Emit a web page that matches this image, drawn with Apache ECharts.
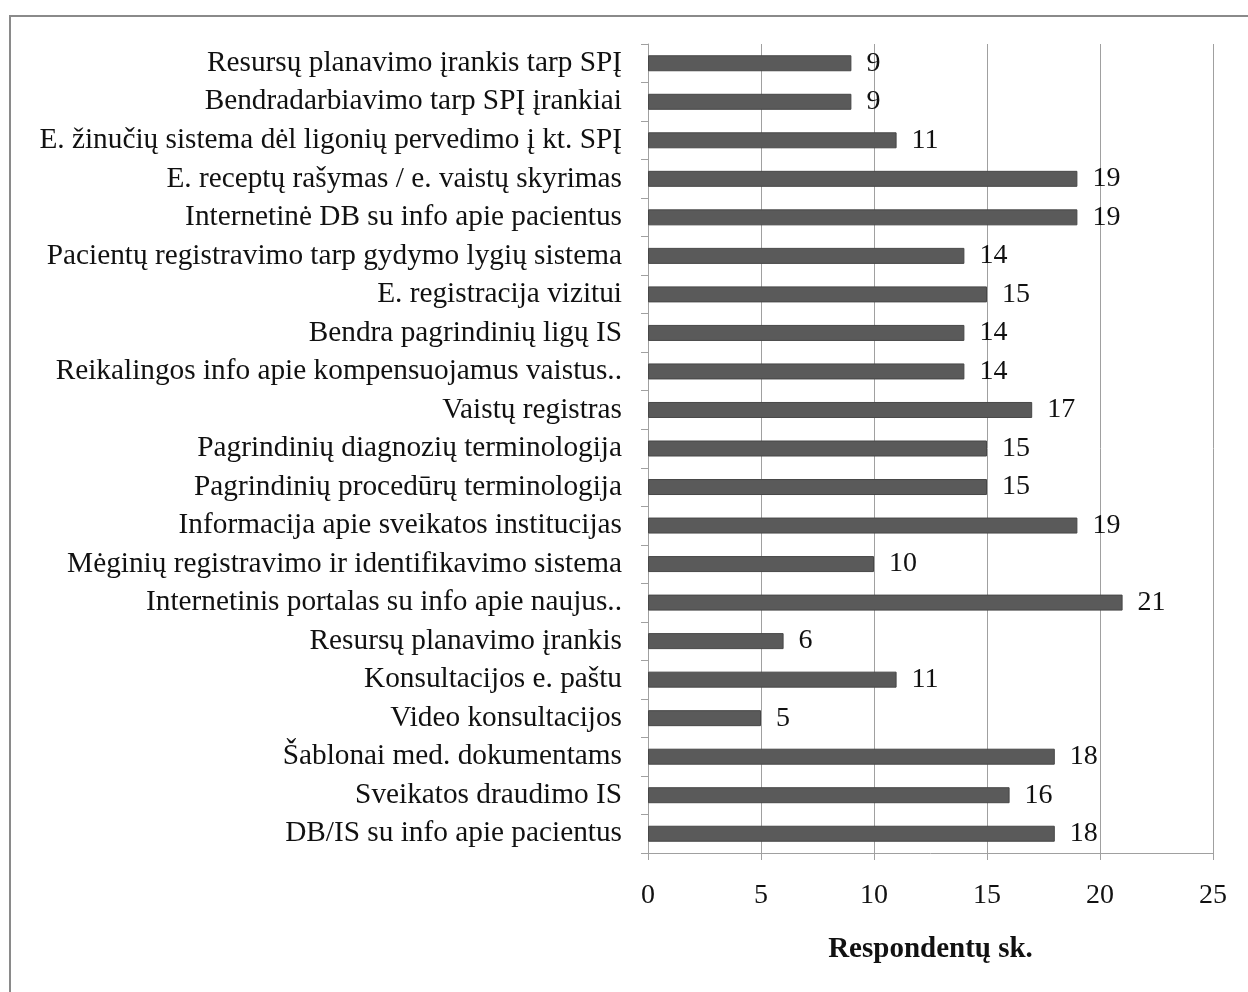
<!DOCTYPE html>
<html>
<head>
<meta charset="utf-8">
<script src="https://cdn.jsdelivr.net/npm/echarts@6/dist/echarts.min.js"></script>
<style>
  html, body { margin: 0; padding: 0; background: #ffffff; }
  #chart { width: 1248px; height: 992px; }
</style>
</head>
<body>
<div id="chart"></div>
<script>
// Listed top to bottom as shown on the chart
const categories = [
  'Resursų planavimo įrankis tarp SPĮ',
  'Bendradarbiavimo tarp SPĮ įrankiai',
  'E. žinučių sistema dėl ligonių pervedimo į kt. SPĮ',
  'E. receptų rašymas / e. vaistų skyrimas',
  'Internetinė DB su info apie pacientus',
  'Pacientų registravimo tarp gydymo lygių sistema',
  'E. registracija vizitui',
  'Bendra pagrindinių ligų IS',
  'Reikalingos info apie kompensuojamus vaistus..',
  'Vaistų registras',
  'Pagrindinių diagnozių terminologija',
  'Pagrindinių procedūrų terminologija',
  'Informacija apie sveikatos institucijas',
  'Mėginių registravimo ir identifikavimo sistema',
  'Internetinis portalas su info apie naujus..',
  'Resursų planavimo įrankis',
  'Konsultacijos e. paštu',
  'Video konsultacijos',
  'Šablonai med. dokumentams',
  'Sveikatos draudimo IS',
  'DB/IS su info apie pacientus'
];
const respondents = [9, 9, 11, 19, 19, 14, 15, 14, 14, 17, 15, 15, 19, 10, 21, 6, 11, 5, 18, 16, 18];
const axisTitle = 'Respondentų sk.';

const FONT = "'Liberation Serif', 'Times New Roman', serif";
const TEXT = '#111111';
const LINE = '#a0a0a0';

const chart = echarts.init(document.getElementById('chart'));
chart.setOption({
  backgroundColor: '#ffffff',
  animation: false,
  textStyle: { fontFamily: FONT, color: TEXT },
  graphic: [{
    type: 'rect',
    shape: { x: 10, y: 16, width: 1260, height: 1000 },
    style: { fill: 'none', stroke: '#8a8a8a', lineWidth: 2 },
    silent: true
  }],
  grid: { left: 648, right: 35, top: 44, bottom: 139, containLabel: false },
  xAxis: {
    type: 'value',
    min: 0, max: 25, interval: 5,
    name: axisTitle,
    nameLocation: 'middle',
    nameGap: 82,
    nameTextStyle: { fontFamily: FONT, fontSize: 29, fontWeight: 'bold', color: TEXT },
    axisLine: { show: true, lineStyle: { color: LINE, width: 1 } },
    axisTick: { show: true, length: 7, lineStyle: { color: LINE } },
    axisLabel: { fontFamily: FONT, fontSize: 28, color: TEXT, margin: 29 },
    splitLine: { show: true, lineStyle: { color: LINE, width: 1 } }
  },
  yAxis: {
    type: 'category',
    inverse: true,
    data: categories,
    axisLine: { show: true, lineStyle: { color: LINE, width: 1 } },
    axisTick: { show: true, length: 7, alignWithLabel: false, lineStyle: { color: LINE } },
    axisLabel: { fontFamily: FONT, fontSize: 29.3, color: TEXT, margin: 26, interval: 0 },
    splitLine: { show: false }
  },
  series: [{
    type: 'bar',
    data: respondents,
    barWidth: 16,
    itemStyle: { color: '#5a5a5a', borderColor: '#474747', borderWidth: 1 },
    label: {
      show: true,
      position: 'right',
      distance: 15,
      fontFamily: FONT,
      fontSize: 28,
      color: TEXT
    }
  }]
});
</script>
</body>
</html>
